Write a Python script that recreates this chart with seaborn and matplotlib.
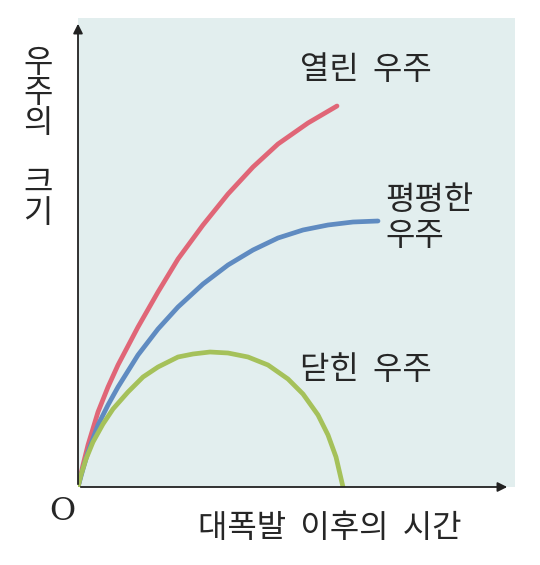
import matplotlib
matplotlib.use("Agg")
import matplotlib.pyplot as plt
import seaborn as sns
import pandas as pd

sns.set_style("white")
plt.rcParams['font.family'] = ['Noto Sans CJK KR', 'DejaVu Sans']

red_x = [0, 5, 10, 20, 30, 40, 60, 80, 100, 125, 150, 175, 200, 230, 259]
red_y = [0, 22, 42, 75, 100, 122, 160, 195, 228, 262, 293, 320, 343, 364, 381]
blue_x = [0, 5, 10, 20, 30, 40, 60, 80, 100, 125, 150, 175, 200, 225, 250, 275, 300]
blue_y = [0, 18, 35, 62, 82, 100, 132, 158, 180, 203, 222, 237, 249, 257, 262, 265, 266]
green_x = [0, 3, 8, 15, 25, 35, 50, 65, 80, 100, 115, 132, 150, 170, 190, 210, 225, 240, 250, 258, 265]
green_y = [0, 12, 28, 45, 63, 78, 95, 110, 120, 130, 133, 135, 134, 130, 122, 108, 93, 72, 52, 30, 0]

fig = plt.figure(figsize=(5.4, 5.65), dpi=100)
ax = fig.add_axes([78/540, 78/565, 437/540, 469/565])
ax.set_facecolor('#e2eeee')
for s in ax.spines.values():
    s.set_visible(False)
ax.set_xlim(0, 437); ax.set_ylim(0, 469)
ax.set_xticks([]); ax.set_yticks([])

for xs, ys, c in [(red_x, red_y, '#e06677'), (blue_x, blue_y, '#5f8bc1'), (green_x, green_y, '#a5c15a')]:
    df = pd.DataFrame({'x': xs, 'y': ys})
    sns.lineplot(data=df, x='x', y='y', ax=ax, color=c, lw=3.4, sort=False, estimator=None)
ax.set_xlabel(''); ax.set_ylabel('')

ax.annotate('', xy=(432, 0), xytext=(0, 0), annotation_clip=False,
            arrowprops=dict(arrowstyle='-|>', color='#222', lw=1.3, mutation_scale=14))
ax.annotate('', xy=(0, 466), xytext=(0, 0), annotation_clip=False,
            arrowprops=dict(arrowstyle='-|>', color='#222', lw=1.3, mutation_scale=14))

fs = 23
fig.text(300/540, 1-70/565, '열린  우주', fontsize=fs, ha='left', va='center')
fig.text(385/540, 1-218/565, '평평한\n우주', fontsize=fs, ha='left', va='center', linespacing=1.15)
fig.text(300/540, 1-370/565, '닫힌  우주', fontsize=fs, ha='left', va='center')
fig.text(330/540, 1-528/565, '대폭발  이후의  시간', fontsize=fs, ha='center', va='center')
fig.text(38/540, 1-138/565, '우\n주\n의\n\n크\n기', fontsize=fs, ha='center', va='center', linespacing=0.92)
fig.text(62/540, 1-512/565, 'O', fontsize=fs, ha='center', va='center', family='DejaVu Serif')

fig.savefig('out.png', dpi=100)
